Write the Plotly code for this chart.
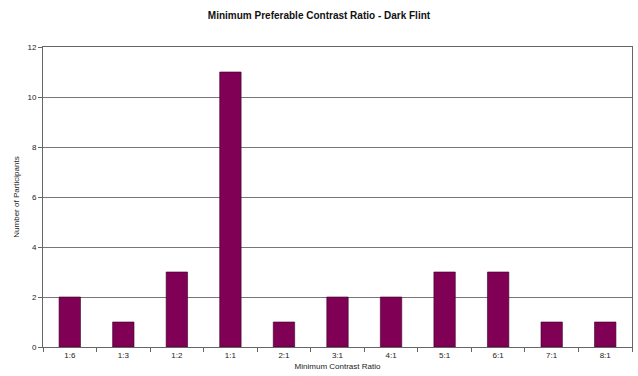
import plotly.graph_objects as go

categories = ["1:6", "1:3", "1:2", "1:1", "2:1", "3:1", "4:1", "5:1", "6:1", "7:1", "8:1"]
participants = [2, 1, 3, 11, 1, 2, 2, 3, 3, 1, 1]
y_ticks = [0, 2, 4, 6, 8, 10, 12]

fig = go.Figure(go.Bar(
    x=categories, y=participants,
    marker=dict(color="#800055", line=dict(color="#3a0025", width=0.6)),
))

fig.update_layout(
    width=638, height=376,
    margin=dict(l=43, r=6, t=47, b=29),
    paper_bgcolor="white", plot_bgcolor="white",
    font=dict(family="Liberation Sans, Arial", size=8, color="#222"),
    title=dict(text="<b>Minimum Preferable Contrast Ratio - Dark Flint</b>",
               x=0.5, xanchor="center", y=0.96, yanchor="middle",
               font=dict(size=10, color="#111")),
    bargap=0.6,
    showlegend=False,
)
fig.update_xaxes(
    title=dict(text="Minimum Contrast Ratio", font=dict(size=8), standoff=4),
    tickson="boundaries", ticks="outside", ticklen=4, tickcolor="#666",
    showline=True, linecolor="#666", linewidth=1, mirror=True,
    showgrid=False, tickfont=dict(size=8),
)
fig.update_yaxes(
    title=dict(text="Number of Participants", font=dict(size=8), standoff=6),
    range=[0, 12], tickvals=y_ticks, ticks="outside", ticklen=4, tickcolor="#666",
    showline=True, linecolor="#666", linewidth=1, mirror=True,
    showgrid=True, gridcolor="#777", gridwidth=1, zeroline=False,
    tickfont=dict(size=8),
)

fig.write_html("out.html")
